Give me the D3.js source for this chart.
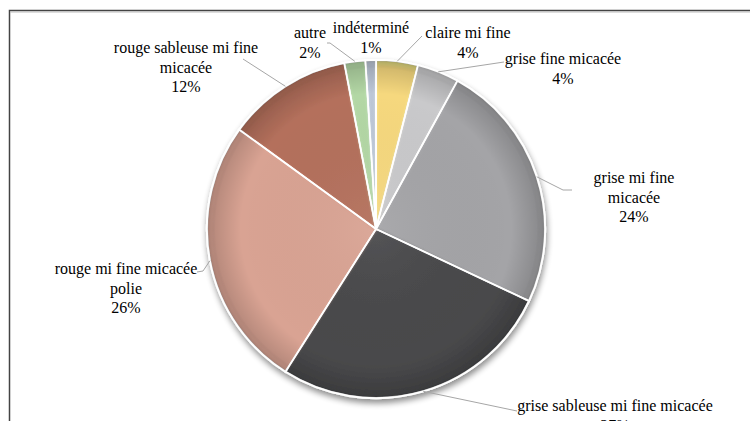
<!DOCTYPE html>
<html>
<head>
<meta charset="utf-8">
<title>Pie chart</title>
<script src="https://d3js.org/d3.v7.min.js"></script>
<style>
    body { margin: 0; background: #fff; }
    .leader { fill: none; stroke: #a6a6a6; stroke-width: 1; }
</style>
</head>
<body>
<div id="chart"></div>
<script>
    // Data (clockwise from 12 o'clock)
    const categories = ['claire mi fine', 'grise fine micacée', 'grise mi fine micacée',
        'grise sableuse mi fine micacée', 'rouge mi fine micacée polie',
        'rouge sableuse mi fine micacée', 'autre', 'indéterminé'];
    const values = [4, 4, 24, 27, 26, 12, 2, 1];
    const colors = ['#f6d87e', '#c9c9cb', '#a4a4a7', '#48494c', '#d9a393', '#b4705c', '#b3d7a5', '#bcc6d6'];

    // label text lines as displayed
    const labelLines = [
        ['claire mi fine'],
        ['grise fine micacée'],
        ['grise mi fine', 'micacée'],
        ['grise sableuse mi fine micacée'],
        ['rouge mi fine micacée', 'polie'],
        ['rouge sableuse mi fine', 'micacée'],
        ['autre'],
        ['indéterminé']
    ];

    // layout: label block centre x, first baseline y, leader end points (null = none)
    const labelLayout = [
        { x: 468, y: 38, end: [[422, 36]] },
        { x: 563, y: 64, end: [[504, 62]] },
        { x: 634, y: 183, end: [[563, 190], [572, 190]] },
        { x: 615, y: 411, end: [[517, 411]] },
        { x: 126, y: 274, end: [[203, 271], [197, 272]] },
        { x: 186, y: 53, end: [[243, 59]] },
        { x: 310, y: 38, end: [[330, 43], [327, 43]] },
        { x: 371, y: 33, end: null }
    ];

    const W = 750, H = 421;
    const cx = 376, cy = 229, r = 169;
    const FONT = '"Liberation Serif", "Times New Roman", "DejaVu Serif", "Noto Serif", serif';

    const svg = d3.select("#chart").append("svg")
        .attr("width", W).attr("height", H);

    const defs = svg.append("defs");

    const shadow = defs.append("filter").attr("id", "shadow")
        .attr("x", "-20%").attr("y", "-20%").attr("width", "140%").attr("height", "140%");
    shadow.append("feGaussianBlur").attr("in", "SourceAlpha").attr("stdDeviation", 3);
    shadow.append("feOffset").attr("dx", 1).attr("dy", 4).attr("result", "off");
    shadow.append("feComponentTransfer").append("feFuncA").attr("type", "linear").attr("slope", 0.45);
    const merge = shadow.append("feMerge");
    merge.append("feMergeNode");
    merge.append("feMergeNode").attr("in", "SourceGraphic");

    const soft = defs.append("filter").attr("id", "soft");
    soft.append("feGaussianBlur").attr("stdDeviation", 1.6);

    const rim = defs.append("radialGradient").attr("id", "rim")
        .attr("gradientUnits", "userSpaceOnUse")
        .attr("cx", 0).attr("cy", 0).attr("r", r);
    rim.append("stop").attr("offset", "0%").attr("stop-color", "#fff").attr("stop-opacity", 0.06);
    rim.append("stop").attr("offset", "80%").attr("stop-color", "#000").attr("stop-opacity", 0);
    rim.append("stop").attr("offset", "95%").attr("stop-color", "#000").attr("stop-opacity", 0.14);
    rim.append("stop").attr("offset", "100%").attr("stop-color", "#000").attr("stop-opacity", 0.35);

    // frame
    svg.append("path")
        .attr("d", `M9.5,${H}V10.5H${W}`)
        .attr("fill", "none").attr("stroke", "#444").attr("stroke-width", 1.5);
    svg.append("line").attr("x1", 10).attr("x2", W).attr("y1", 12).attr("y2", 12)
        .attr("stroke", "#bbb").attr("stroke-width", 1);

    const pie = d3.pie().sort(null).value(d => d);
    const arcs = pie(values);

    const arc = d3.arc().innerRadius(0).outerRadius(r);
    const innerArc = d3.arc().innerRadius(0).outerRadius(r - 5).padAngle(0.02).padRadius(60);
    const pointArc = d3.arc().innerRadius(r).outerRadius(r);

    const g = svg.append("g").attr("transform", `translate(${cx},${cy})`);

    const slices = g.append("g").attr("filter", "url(#shadow)");

    slices.selectAll("path.base")
        .data(arcs).enter().append("path")
        .attr("class", "base")
        .attr("d", arc)
        .attr("fill", (d, i) => d3.color(colors[i]).brighter(0.35))
        .attr("stroke", "#fff").attr("stroke-width", 2.2);

    slices.selectAll("path.face")
        .data(arcs).enter().append("path")
        .attr("class", "face")
        .attr("d", innerArc)
        .attr("fill", (d, i) => colors[i])
        .attr("filter", "url(#soft)");

    slices.selectAll("path.shade")
        .data(arcs).enter().append("path")
        .attr("class", "shade")
        .attr("d", arc)
        .attr("fill", "url(#rim)")
        .attr("stroke", "#fff").attr("stroke-width", 1.6);

    // leader lines
    arcs.forEach((d, i) => {
        const lay = labelLayout[i];
        if (!lay.end) return;
        const p = pointArc.centroid(d);
        const pts = [[p[0] + cx, p[1] + cy]].concat(lay.end);
        svg.append("path").attr("class", "leader")
            .attr("d", d3.line()(pts));
    });

    // labels
    arcs.forEach((d, i) => {
        const lay = labelLayout[i];
        const lines = labelLines[i].concat([values[i] + '%']);
        const t = svg.append("text")
            .attr("font-family", FONT)
            .attr("font-size", 16)
            .attr("fill", "#000")
            .attr("text-anchor", "middle");
        lines.forEach((s, k) => {
            t.append("tspan").attr("x", lay.x).attr("y", lay.y + k * 19.5).text(s);
        });
    });
</script>
</body>
</html>
